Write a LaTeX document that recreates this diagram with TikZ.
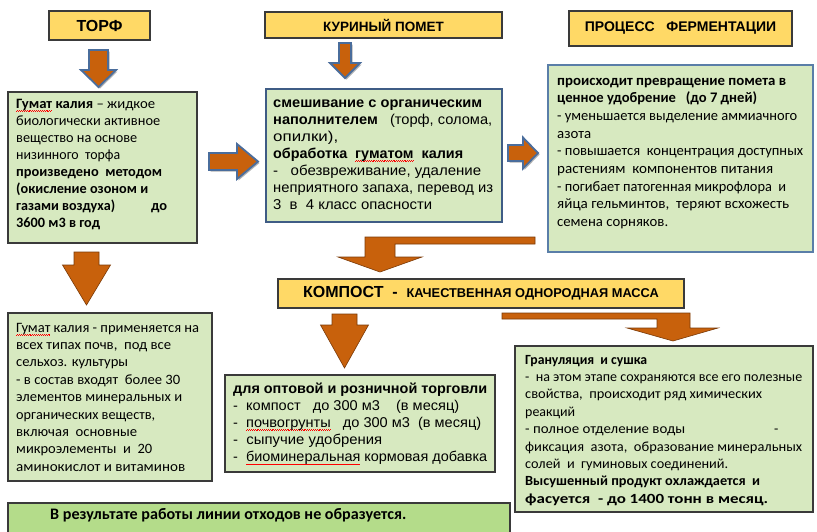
\documentclass[tikz,border=0pt]{standalone}
\usepackage{fontspec}
\usepackage{graphicx}
\setmainfont{Carlito}
\newfontfamily\arialf{Liberation Sans}
\usetikzlibrary{shadows}
\newsavebox\spbox
\newcommand\sperr[1]{\leavevmode\sbox\spbox{#1}\rlap{\color{red}\raisebox{-3.2pt}{\hbox to \wd\spbox{\xleaders\hbox{\rule{0.9pt}{0.55pt}\raisebox{0.8pt}{\rule{0.9pt}{0.55pt}}}\hfill}}}#1}
\newcommand\fw[2]{\resizebox{#1pt}{\height}{#2}}
\definecolor{hdrfill}{HTML}{FFD966}
\definecolor{hdrdraw}{HTML}{3A3A3A}
\definecolor{gfill}{HTML}{D7E9C0}
\definecolor{gdraw}{HTML}{3A3A3A}
\definecolor{bluedk}{HTML}{3F5C85}
\definecolor{bluelt}{HTML}{5A7EA8}
\definecolor{orng}{HTML}{C8610C}
\definecolor{orngdk}{HTML}{7A3A08}
\definecolor{arrblue}{HTML}{4A6D9C}
\definecolor{botfill}{HTML}{B4DC8A}
\tikzset{
  hdr/.style={draw=hdrdraw, fill=hdrfill, line width=1.3pt, inner sep=0, font=\arialf\bfseries},
  gbox/.style={draw=gdraw, fill=gfill, line width=1.3pt, inner sep=0},
  txt/.style={anchor=base west, inner sep=0},
  oarr/.style={fill=orng, draw=orngdk, line width=0.6pt},
  barr/.style={fill=orng, draw=arrblue, line width=1.8pt, line join=miter,
    drop shadow={shadow xshift=1.5pt, shadow yshift=-1.5pt, opacity=0.3, fill=black}},
  pics/darr/.style n args={5}{code={
    \path[#5] (-#1,0) -- (#1,0) -- (#1,#3-#4) -- (#2,#3-#4) -- (0,#3) -- (-#2,#3-#4) -- (-#1,#3-#4) -- cycle;
  }},
  pics/rarr/.style n args={5}{code={
    \path[#5] (0,-#1) -- (#3-#4,-#1) -- (#3-#4,-#2) -- (#3,0) -- (#3-#4,#2) -- (#3-#4,#1) -- (0,#1) -- cycle;
  }},
}
\newcommand\calfs[2]{\fontsize{#1}{#2}\selectfont}
\begin{document}
\begin{tikzpicture}[x=1pt,y=-1pt]
\useasboundingbox[fill=white] (0,0) rectangle (817,531);

% headers
\node[hdr, minimum width=101, minimum height=29] (torf) at (99.5,25.5) {\fontsize{16}{19}\selectfont ТОРФ};
\node[hdr, minimum width=237, minimum height=26] (pomet) at (383.5,25) {\fontsize{13.5}{16}\selectfont КУРИНЫЙ ПОМЕТ};
\node[hdr, minimum width=223, minimum height=35] (ferm) at (680.5,28.5) {\fontsize{14}{16}\selectfont ПРОЦЕСС\ \ \ ФЕРМЕНТАЦИИ};
\node[hdr, minimum width=406, minimum height=29] (kompost) at (481,293.5) {\fontsize{16}{19}\selectfont КОМПОСТ\ \ -\ \ \fontsize{12.8}{15}\selectfont КАЧЕСТВЕННАЯ ОДНОРОДНАЯ МАССА};

% boxes
\node[gbox, minimum width=189, minimum height=151] (b1) at (102.5,167.5) {};
\node[gbox, draw=bluedk, minimum width=236, minimum height=133] (b2) at (384,155.5) {};
\node[gbox, draw=bluelt, minimum width=265, minimum height=187] (b3) at (680.5,158.5) {};
\node[gbox, minimum width=204, minimum height=168] (b4) at (110,397) {};
\node[gbox, minimum width=270, minimum height=97] (b5) at (360,423.5) {};
\node[gbox, minimum width=298, minimum height=166] (b6) at (664,429) {};
\node[gbox, fill=botfill, minimum width=502, minimum height=40] (bot) at (259,523) {};

% texts
\node[txt] (t1) at (16,108) {\parbox[t]{300pt}{\raggedright\calfs{14.3}{17.1}%
\fw{139}{\textbf{\sperr{Гумат} калия} – жидкое}\\
\fw{144}{биологически активное}\\
\fw{121}{вещество на основе}\\
\fw{104}{низинного\ \ торфа}\\
\fw{146}{\textbf{произведено\ \ методом}}\\
\fw{132}{\textbf{(окисление озоном и}}\\
\makebox[135pt][l]{\fw{99}{\textbf{газами воздуха)}}}\fw{16}{\textbf{до}}\\
\fw{84}{\textbf{3600 м3 в год}}}};

\node[txt] (t2) at (273,107) {\parbox[t]{300pt}{\raggedright\arialf\calfs{14.3}{17}%
\fw{209}{\textbf{смешивание с органическим}}\\
\fw{219}{\textbf{наполнителем}\ \ \ (торф, солома,}\\
\fw{65}{опилки),}\\
\fw{190}{\textbf{обработка\ \ \sperr{гуматом}\ \ калия}}\\
\fw{208}{-\ \ \ обезвреживание,\ удаление}\\
\fw{220}{неприятного запаха,\ перевод из}\\
\fw{159}{3\ \ в\ \ 4 класс опасности}}};

\node[txt] (t3) at (557,85) {\parbox[t]{300pt}{\raggedright\calfs{14.6}{17.7}%
\fw{229}{\textbf{происходит превращение помета в}}\\
\fw{200}{\textbf{ценное удобрение\ \ \ (до 7 дней)}}\\
\fw{240}{- уменьшается выделение аммиачного}\\
\fw{34}{азота}\\
\fw{246}{- повышается\ \ концентрация доступных}\\
\fw{216}{растениям\ \ компонентов питания}\\
\fw{229}{- погибает патогенная микрофлора\ \ и}\\
\fw{232}{яйца гельминтов,\ \ теряют всхожесть}\\
\fw{111}{семена сорняков.}}};

\node[txt] (t4) at (16,332) {\parbox[t]{300pt}{\raggedright\calfs{14.3}{17.4}%
\fw{183}{\sperr{Гумат} калия - применяется на}\\
\fw{155}{всех типах почв,\ \ под все}\\
\fw{112}{сельхоз. культуры}\\
\fw{164}{- в состав входят\ \ более 30}\\
\fw{166}{элементов минеральных и}\\
\fw{139}{органических веществ,}\\
\fw{121}{включая\ \ основные}\\
\fw{136}{микроэлементы\ \ и\ \ 20}\\
\fw{169}{аминокислот и витаминов}}};

\node[txt] (t5) at (233,393) {\parbox[t]{300pt}{\raggedright\arialf\calfs{14.2}{17.2}%
\fw{254}{\textbf{для оптовой и розничной торговли}}\\
\fw{226}{-\ \ компост\ \ \ до 300 м3\ \ \ \ (в месяц)}\\
\fw{248}{-\ \ \sperr{почвогрунты}\ \ \ до 300 м3\ \ (в месяц)}\\
\fw{149}{-\ \ сыпучие удобрения}\\
\fw{254}{-\ \ \sperr{биоминеральная} кормовая добавка}}};

\node[txt] (t6) at (525,364) {\parbox[t]{300pt}{\raggedright\calfs{14}{17.4}%
\fw{122}{\textbf{Грануляция\ \ и сушка}}\\
\fw{277}{-\ \ на этом этапе сохраняются все его полезные}\\
\fw{237}{свойства,\ \ происходит ряд химических}\\
\fw{50}{реакций}\\
\makebox[249pt][l]{\fw{160}{- полное отделение воды}}-\\
\fw{277}{фиксация\ \ азота,\ \ образование минеральных}\\
\fw{203}{солей\ \ и\ \ гуминовых соединений.}\\
\fw{235}{\textbf{Высушенный продукт охлаждается\ \ и}}\\
\fw{243}{\textbf{фасуется\ \ - до 1400 тонн в месяц.}}}};

\node[txt] (t7) at (50,519) {\calfs{16}{18}\fw{356}{\bfseries В результате работы линии отходов не образуется.}};

% arrows
\pic at (98.5,50) {darr={9.5}{17.5}{37}{17}{barr}};
\pic at (345,43) {darr={6}{15}{35}{15}{barr}};
\pic at (209,161.5) {rarr={8.5}{17.5}{49}{21}{barr}};
\pic at (508,153) {rarr={8}{15.5}{30}{15}{barr}};
\pic at (86.5,252) {darr={12.5}{24}{53}{40}{oarr}};
\pic at (344.5,314) {darr={12.5}{24}{54}{43}{oarr}};
\path[oarr] (535,237) -- (365,237) -- (365,257) -- (338,257) -- (380,272) -- (422,257) -- (395,257) -- (395,244) -- (535,244) -- cycle;
\path[oarr] (502,313) -- (690,313) -- (690,328) -- (718,328) -- (673,341) -- (627,328) -- (657,328) -- (657,319) -- (502,319) -- cycle;
\end{tikzpicture}
\end{document}
